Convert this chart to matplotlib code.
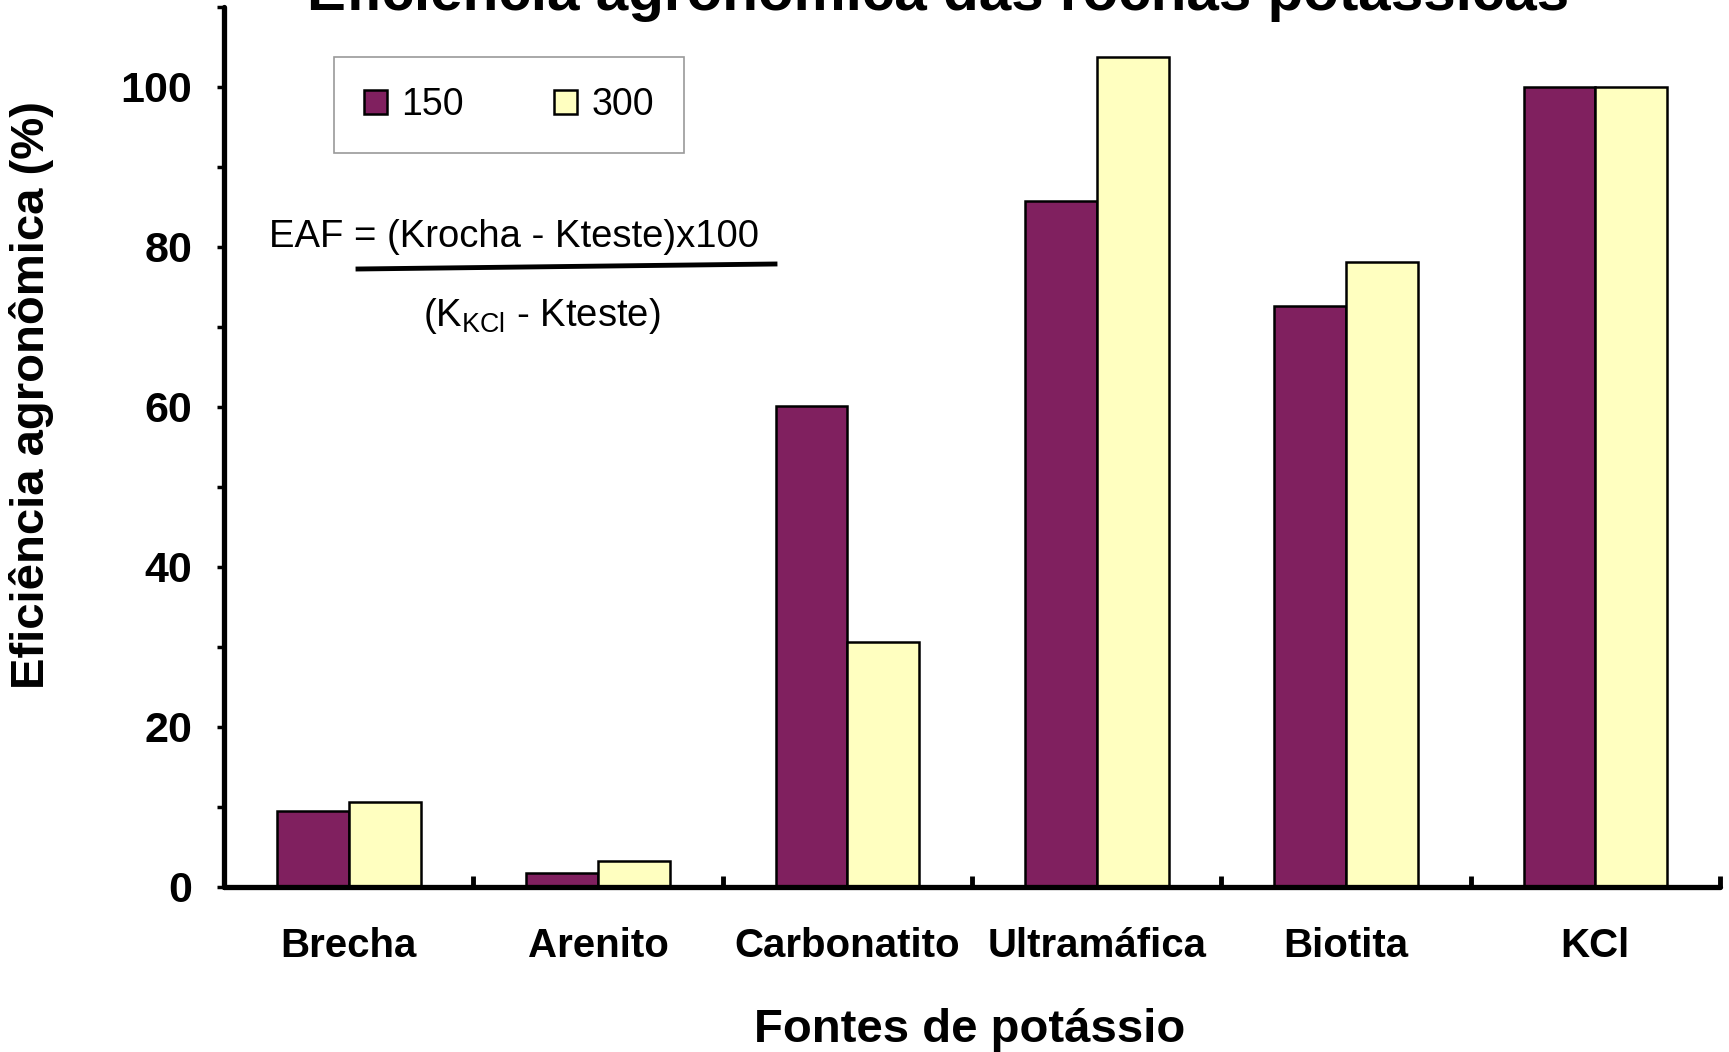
import numpy as np
import matplotlib.pyplot as plt

plt.rcParams['font.family'] = ['Liberation Sans', 'DejaVu Sans']

fontes = ['Brecha', 'Arenito', 'Carbonatito', 'Ultramáfica', 'Biotita', 'KCl']
dose_150 = [9.5, 1.7, 60.1, 85.7, 72.6, 100.0]
dose_300 = [10.6, 3.2, 30.6, 103.7, 78.1, 100.0]
doses = ['150', '300']

fig = plt.figure(figsize=(17.29, 10.52), dpi=100)
ax = fig.add_axes([0.1296, 0.1572, 0.8652, 0.8365])

x = np.arange(len(fontes))
w = 0.288
ax.bar(x - w / 2, dose_150, w, color='#80205F', edgecolor='black', linewidth=1.8, label=doses[0])
ax.bar(x + w / 2, dose_300, w, color='#FFFFC0', edgecolor='black', linewidth=1.8, label=doses[1])

ax.set_xlim(-0.5, len(fontes) - 0.5)
ax.set_ylim(0, 110)
for s in ['top', 'right']:
    ax.spines[s].set_visible(False)
for s in ['left', 'bottom']:
    ax.spines[s].set_linewidth(3.8)
    ax.spines[s].set_capstyle('round')

ax.set_yticks(np.arange(0, 101, 20))
ax.set_yticks(np.arange(0, 111, 10), minor=True)
ax.tick_params(axis='y', which='both', direction='out', length=5, width=2.5, pad=18,
               labelsize=31)
for t in ax.get_yticklabels():
    t.set_fontweight('bold')

ax.set_xticks(x)
ax.set_xticklabels(fontes, fontsize=29, fontweight='bold')
ax.set_xticks(np.arange(-0.5, len(fontes)), minor=True)
ax.tick_params(axis='x', which='major', length=0, pad=29)
ax.tick_params(axis='x', which='minor', direction='in', length=8, width=3.5)

leg = ax.legend(loc='upper left', bbox_to_anchor=(0.0735, 0.9427), ncol=2, fontsize=27,
                frameon=True, fancybox=False, edgecolor='#808080', handlelength=0.6,
                handleheight=0.6, handletextpad=0.4, columnspacing=2.4,
                borderpad=0.8, borderaxespad=0)
leg.get_frame().set_linewidth(1.2)

# formula
fig.text(269 / 1729, 1 - 237 / 1052, 'EAF = (Krocha - Kteste)x100', fontsize=27.5,
         ha='left', va='center')
fig.add_artist(plt.Line2D([358 / 1729, 775 / 1729], [1 - 269 / 1052, 1 - 264 / 1052],
                          color='black', linewidth=3.5))
fig.text(542 / 1729, 1 - 316 / 1052, r'(K$_{\mathregular{KCl}}$ - Kteste)', fontsize=27.5,
         ha='center', va='center')

fig.text(0.5425, 1 - 10 / 1052, 'Eficiência agronômica das rochas potássicas', fontsize=42,
         fontweight='bold', ha='center', va='baseline')
fig.text(0.561, 0.0095, 'Fontes de potássio', fontsize=34, fontweight='bold',
         ha='center', va='baseline')
fig.text(0.018, 1 - 395 / 1052, 'Eficiência agronômica (%)', fontsize=34, fontweight='bold',
         rotation=90, ha='center', va='center')

fig.savefig('out.png', dpi=100)
